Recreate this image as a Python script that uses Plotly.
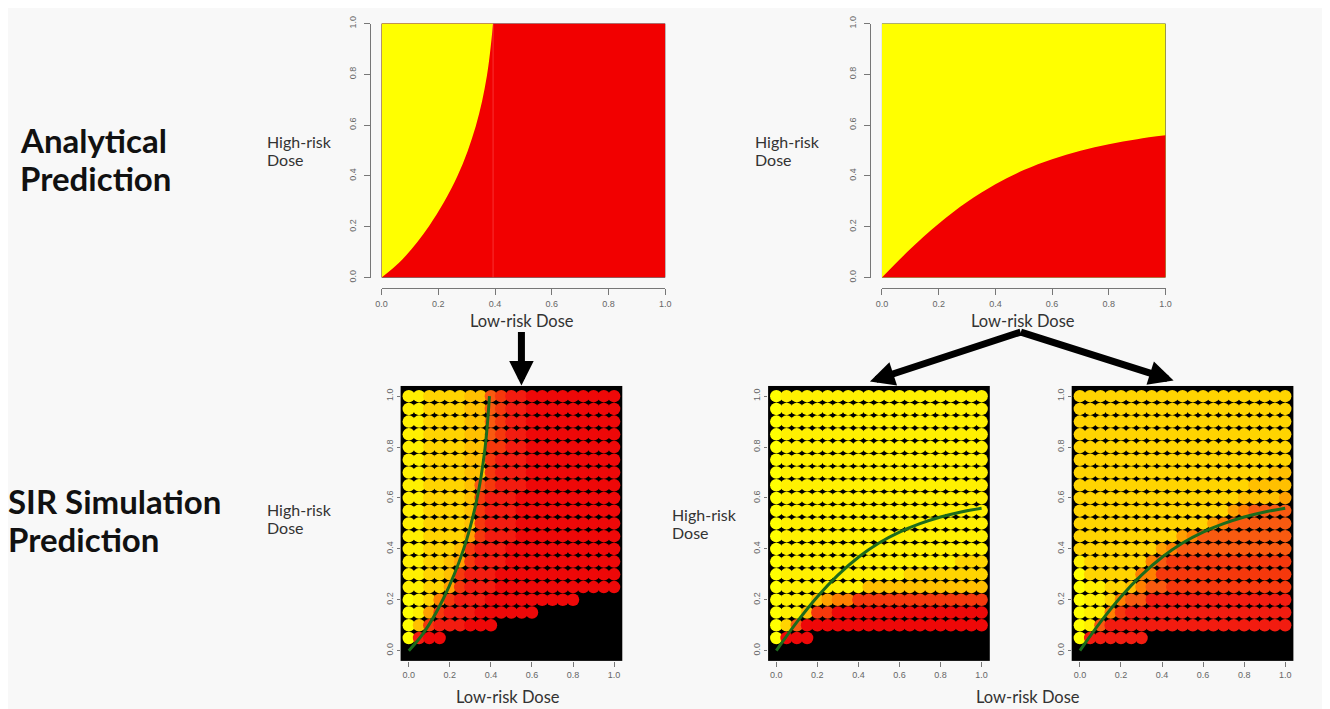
import plotly.graph_objects as go

W, H = 1330, 709

# ---------------- data ----------------
# analytical boundaries
left_bound_x = [0.0, 0.073, 0.167, 0.267, 0.332, 0.371, 0.393]
left_bound_y = [0.0, 0.071, 0.202, 0.399, 0.596, 0.793, 1.0]
right_bound_x = [0.0, 0.1, 0.2, 0.3, 0.4, 0.5, 0.6, 0.7, 0.8, 0.9, 1.0]
right_bound_y = [0.0, 0.112, 0.212, 0.297, 0.367, 0.423, 0.466, 0.499, 0.525, 0.545, 0.56]

# simulation grid
dose_x = [0.0, 0.05, 0.10, 0.15, 0.20, 0.25, 0.30, 0.35, 0.40, 0.45, 0.50,
          0.55, 0.60, 0.65, 0.70, 0.75, 0.80, 0.85, 0.90, 0.95, 1.0]
dose_y = [1.0, 0.95, 0.90, 0.85, 0.80, 0.75, 0.70, 0.65, 0.60, 0.55,
          0.50, 0.45, 0.40, 0.35, 0.30, 0.25, 0.20, 0.15, 0.10, 0.05]

# infection level per dot: 0 = yellow ... 9 = red, '.' = no dot
sim_left = [
    "112222336788999999999",
    "112222336788999999999",
    "112222336788999999999",
    "112222336788999999999",
    "112222337788999999999",
    "112222337888999999999",
    "112222337888999999999",
    "112222367888999999999",
    "112222378889999999999",
    "112222378889999999999",
    "112222378889999999999",
    "112222478889999999999",
    "112223788899999999999",
    "112234788899999999999",
    "112237888999999999999",
    "112247888999999999999",
    "01257888999999999....",
    "0147888999999........",
    "037888999............",
    "0899.................",
]
sim_mid = [
    "011111111111111111111",
    "011111111111111111111",
    "011111111111111111111",
    "011111111111111111111",
    "011111111111111111111",
    "011111111111111111111",
    "011111111111111111111",
    "011111111111111111111",
    "011111111111111111111",
    "011111111111111111111",
    "011111111111111111111",
    "011111111111111111111",
    "011111111111111111111",
    "011111111111111111222",
    "011111111111122222222",
    "011111111333333333333",
    "011134557777777777777",
    "011377999999999999999",
    "026999999999999999999",
    "0999.................",
]
sim_right = [
    "222222222222222222222",
    "222222222222222222222",
    "222222222222222222222",
    "222222222222222222222",
    "222222222222222222222",
    "222222222222222222222",
    "222222222222222222233",
    "222222222222222223333",
    "222222222222222233334",
    "222222222222222456666",
    "222222222222245666666",
    "222222222245666666666",
    "222222224566666666666",
    "122222256777777777777",
    "022222557777777777777",
    "011223566777777777777",
    "011256688888888888888",
    "011578888888888888888",
    "016888888888888888888",
    "0888888..............",
]

tick_vals = [0.0, 0.2, 0.4, 0.6, 0.8, 1.0]
tick_text = ["0.0", "0.2", "0.4", "0.6", "0.8", "1.0"]

# ---------------- styling ----------------
BG = "#F8F8F8"
YELLOW = "#FFFF00"
RED = "#F20000"
GREEN = "#1C6B1C"
level_scale = [
    [0.0, "#FFFF00"], [1 / 9, "#FFF000"], [2 / 9, "#FFD400"], [3 / 9, "#FFC000"],
    [4 / 9, "#FFA000"], [5 / 9, "#FF8000"], [6 / 9, "#F85A10"], [7 / 9, "#F5380C"],
    [8 / 9, "#F21C10"], [1.0, "#EE0808"],
]
TXT = "Lato"
TICKF = dict(family="Liberation Sans", size=9, color="#666")


# screen-pixel -> paper conversion (calibrated to the rendered page)
def px(p):
    return ((p - 12.9) / 0.9923) / W


def py(p):
    return 1 - ((p - 16.4) / 0.982) / H


fig = go.Figure()

# --- top-left analytical panel
fig.add_trace(go.Scatter(x=[0, 1, 1, 0, 0], y=[0, 0, 1, 1, 0], fill="toself",
                         fillcolor=RED, line=dict(width=0), mode="lines",
                         xaxis="x", yaxis="y", hoverinfo="skip"))
fig.add_trace(go.Scatter(x=left_bound_x, y=left_bound_y, fill="tozerox",
                         fillcolor=YELLOW, line=dict(width=0, shape="spline"),
                         mode="lines", xaxis="x", yaxis="y", hoverinfo="skip"))
fig.add_trace(go.Scatter(x=[left_bound_x[-1], left_bound_x[-1]], y=[0, 1],
                         mode="lines", line=dict(color="rgba(255,110,110,0.45)", width=1),
                         xaxis="x", yaxis="y", hoverinfo="skip"))

# --- top-right analytical panel
fig.add_trace(go.Scatter(x=[0, 1, 1, 0, 0], y=[0, 0, 1, 1, 0], fill="toself",
                         fillcolor=YELLOW, line=dict(width=0), mode="lines",
                         xaxis="x2", yaxis="y2", hoverinfo="skip"))
fig.add_trace(go.Scatter(x=right_bound_x, y=right_bound_y, fill="tozeroy",
                         fillcolor=RED, line=dict(width=0, shape="spline"),
                         mode="lines", xaxis="x2", yaxis="y2", hoverinfo="skip"))


def grid_points(rows):
    xs, ys, cs = [], [], []
    for yv, row in zip(dose_y, rows):
        for xv, ch in zip(dose_x, row):
            if ch.isdigit():
                xs.append(xv)
                ys.append(yv)
                cs.append(int(ch))
    return xs, ys, cs


panels = [
    (sim_left, "x3", "y3", left_bound_x, left_bound_y),
    (sim_mid, "x4", "y4", right_bound_x, right_bound_y),
    (sim_right, "x5", "y5", right_bound_x, right_bound_y),
]
for rows, xa, ya, bx, by in panels:
    xs, ys, cs = grid_points(rows)
    fig.add_trace(go.Scatter(x=xs, y=ys, mode="markers", xaxis=xa, yaxis=ya,
                             marker=dict(size=12.5, color=cs, colorscale=level_scale,
                                         cmin=0, cmax=9, showscale=False,
                                         line=dict(width=0)),
                             hoverinfo="skip"))
    fig.add_trace(go.Scatter(x=bx, y=by, mode="lines", xaxis=xa, yaxis=ya,
                             line=dict(color=GREEN, width=3, shape="spline"),
                             hoverinfo="skip"))

# ---------------- axes ----------------
common = dict(tickvals=tick_vals, ticktext=tick_text, tickfont=TICKF,
              ticks="outside", tickcolor="#777", showgrid=False, zeroline=False,
              fixedrange=True)

top_dom_y = [py(278), py(24)]
layout_axes = dict(
    xaxis=dict(domain=[px(381), px(665)], range=[0, 1], anchor="free",
               position=py(288), showline=True, linecolor="#777", ticklen=6,
               ticklabelstandoff=2, **common),
    yaxis=dict(domain=top_dom_y, range=[0, 1], anchor="free", position=px(369),
               showline=True, linecolor="#777", ticklen=6, ticklabelstandoff=4,
               tickangle=-90, **common),
    xaxis2=dict(domain=[px(882), px(1166)], range=[0, 1], anchor="free",
                position=py(288), showline=True, linecolor="#777", ticklen=6,
                ticklabelstandoff=2, **common),
    yaxis2=dict(domain=top_dom_y, range=[0, 1], anchor="free", position=px(870),
                showline=True, linecolor="#777", ticklen=6, ticklabelstandoff=4,
                tickangle=-90, **common),
)
bot_dom_y = [py(661.5), py(386.5)]
for i, (l, r) in zip([3, 4, 5], [(400, 622), (768, 990), (1072, 1294)]):
    layout_axes[f"xaxis{i}"] = dict(domain=[px(l), px(r)], range=[-0.04, 1.04],
                                    anchor=f"y{i}", showline=False, ticklen=5, **common)
    layout_axes[f"yaxis{i}"] = dict(domain=bot_dom_y, range=[-0.04, 1.04],
                                    anchor=f"x{i}", showline=False, ticklen=3,
                                    tickangle=-90, **common)

fig.update_layout(**layout_axes)

# ---------------- text ----------------
ann = []


def text(x, y, s, size, color="#333", bold=False, xanchor="left"):
    ann.append(dict(x=px(x), y=py(y), xref="paper", yref="paper", text=s,
                    showarrow=False, xanchor=xanchor, yanchor="middle", align="left",
                    font=dict(family=TXT, size=size, color=color,
                              weight="bold" if bold else "normal")))


text(17, 140, "Analytical", 33, "#111", True)
text(17, 178, "Prediction", 33, "#111", True)
text(5, 502, "SIR Simulation", 33, "#111", True)
text(5, 540, "Prediction", 33, "#111", True)
for (hx, hy) in [(264, 142), (753, 142), (264, 510), (670, 515)]:
    text(hx, hy, "High-risk", 16)
    text(hx, hy + 18, "Dose", 16)
text(522, 322, "Low-risk Dose", 16.5, xanchor="center")
text(1023, 322, "Low-risk Dose", 16.5, xanchor="center")
text(508, 698, "Low-risk Dose", 16.5, xanchor="center")
text(1028, 698, "Low-risk Dose", 16.5, xanchor="center")


def arrow(x0, y0, x1, y1):
    ann.append(dict(x=px(x1), y=py(y1), xref="paper", yref="paper", text="",
                    showarrow=True, ax=(x0 - x1) / 0.9923, ay=(y0 - y1) / 0.982,
                    axref="pixel", ayref="pixel",
                    arrowhead=2, arrowsize=0.7, arrowwidth=7, arrowcolor="#000"))


arrow(521, 332, 521, 386)
arrow(1021, 333, 870, 382)
arrow(1021, 333, 1174, 381)

fig.update_layout(annotations=ann, width=W, height=H,
                  margin=dict(l=0, r=0, t=0, b=0),
                  paper_bgcolor=BG, plot_bgcolor="#000000", showlegend=False)

fig.write_html("out.html")
